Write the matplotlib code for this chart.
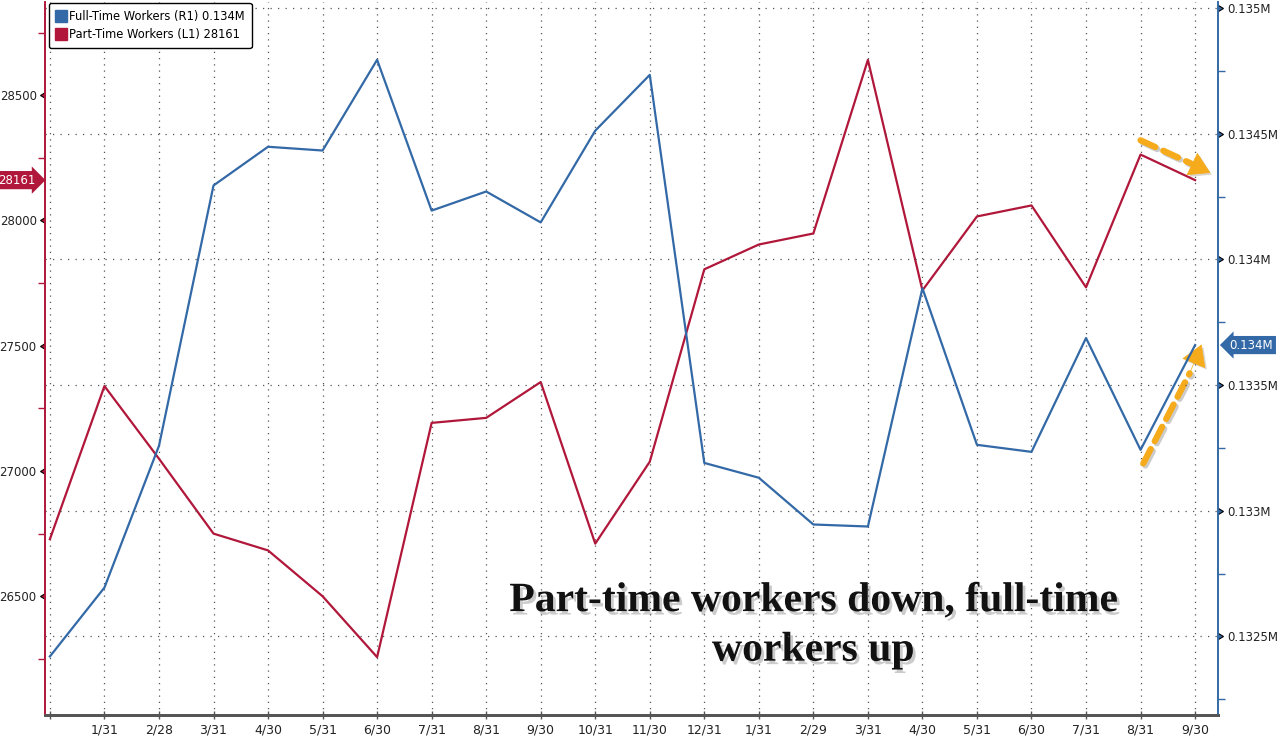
import matplotlib
matplotlib.use("Agg")
import matplotlib.pyplot as plt
import matplotlib.patheffects as pe
import matplotlib.transforms as mtransforms
from matplotlib.lines import Line2D
from matplotlib.ticker import MultipleLocator

# month-end labels, Dec 2022 -> Sep 2024 (first one unlabeled)
months = ["", "1/31", "2/28", "3/31", "4/30", "5/31", "6/30", "7/31", "8/31",
          "9/30", "10/31", "11/30", "12/31", "1/31", "2/29", "3/31", "4/30",
          "5/31", "6/30", "7/31", "8/31", "9/30"]

# full-time workers, thousands (right axis)
full_time = [132420, 132694, 133258, 134294, 134448, 134433, 134794, 134194,
             134270, 134147, 134512, 134734, 133190, 133131, 132945, 132937,
             133885, 133262, 133234, 133687, 133242, 133659]

# part-time workers, thousands (left axis)
part_time = [26728, 27339, 27049, 26750, 26683, 26500, 26257, 27192, 27212,
             27355, 26710, 27037, 27805, 27904, 27948, 28641, 27721, 28016,
             28060, 27733, 28263, 28161]

BLUE = "#3369a6"
RED = "#b0173a"
ORANGE = "#f5ab1c"

plt.rcParams["font.family"] = ["DejaVu Sans"]

fig = plt.figure(figsize=(12.8, 7.39), dpi=100)
ax = fig.add_axes([45 / 1280, 1 - 715 / 739, (1218 - 45) / 1280, 713 / 739])
ax2 = ax.twinx()

x = list(range(len(months)))

ax.plot(x, part_time, color=RED, lw=1.6, zorder=3)
ax2.plot(x, full_time, color=BLUE, lw=1.6, zorder=3)

ax.set_xlim(-0.09, 21.42)
ax.set_ylim(26026, 28872)
ax2.set_ylim(132187, 135024)

ax.set_xticks(x)
ax.set_xticklabels(months, fontsize=9, color="#222222")
ax.tick_params(axis="x", direction="inout", length=6, width=1, color="#555555", pad=3)

# left axis (red)
ax.yaxis.set_major_locator(MultipleLocator(500))
ax.yaxis.set_minor_locator(MultipleLocator(250))
ax.tick_params(axis="y", which="major", length=0, labelsize=8.5, labelcolor="#222222", pad=6)
ax.tick_params(axis="y", which="minor", length=5, width=1, color=RED)
for t in ax.yaxis.get_major_ticks():
    t.tick1line.set_marker(8)
    t.tick1line.set_markersize(5)
    t.tick1line.set_color(RED)

# right axis (blue)
ax2.yaxis.set_major_locator(MultipleLocator(500))
ax2.yaxis.set_minor_locator(MultipleLocator(250))
ax2.yaxis.set_major_formatter(lambda v, p: f"{v / 1e6:g}M")
ax2.tick_params(axis="y", which="major", length=0, labelsize=8.5, labelcolor="#222222", pad=7)
ax2.tick_params(axis="y", which="minor", length=5, width=1, color=BLUE)
for t in ax2.yaxis.get_major_ticks():
    t.tick2line.set_marker(9)
    t.tick2line.set_markersize(5)
    t.tick2line.set_color(BLUE)

# grid
ax.grid(axis="x", linestyle=(0, (1, 4)), color="#555555", lw=0.9)
ax2.grid(axis="y", linestyle=(0, (1, 5)), color="#555555", lw=0.9)

for a in (ax, ax2):
    a.spines["top"].set_visible(False)
    a.spines["bottom"].set_color("#555555")
    a.spines["bottom"].set_linewidth(2)
    a.spines["left"].set_color(RED)
    a.spines["right"].set_color(BLUE)
    a.spines["left"].set_linewidth(1.2)
    a.spines["right"].set_linewidth(1.2)

# last-value tags
trans_l = mtransforms.blended_transform_factory(ax.transAxes, ax.transData)
ax.text(-0.008, part_time[-1], f"{part_time[-1]}", transform=trans_l, ha="right",
        va="center", color="white", fontsize=8.5, clip_on=False,
        bbox=dict(boxstyle="rarrow,pad=0.22", fc=RED, ec="none"))
trans_r = mtransforms.blended_transform_factory(ax2.transAxes, ax2.transData)
ax2.text(1.01, full_time[-1], f"{full_time[-1] / 1e6:.3f}M", transform=trans_r, ha="left",
         va="center", color="white", fontsize=8.5, clip_on=False,
         bbox=dict(boxstyle="larrow,pad=0.22", fc=BLUE, ec="none"))

# legend
handles = [Line2D([], [], marker="s", ls="none", color=BLUE, markersize=9),
           Line2D([], [], marker="s", ls="none", color=RED, markersize=9)]
labels = [f"Full-Time Workers (R1) {full_time[-1] / 1e6:.3f}M",
          f"Part-Time Workers (L1) {part_time[-1]}"]
leg = ax2.legend(handles, labels, loc="upper left", bbox_to_anchor=(49 / 1280, 1 - 3 / 739),
                 bbox_transform=fig.transFigure, borderaxespad=0, fontsize=8.3,
                 handlelength=0.8, handletextpad=0.35, labelspacing=0.45,
                 borderpad=0.6, fancybox=True, framealpha=1, edgecolor="black")
leg.get_frame().set_linewidth(1.0)

# orange trend arrows: dashed shaft + solid head
shadow = [pe.SimpleLineShadow(offset=(1.5, -1.5), alpha=0.2), pe.Normal()]
trends = [((20.0, 28320), (20.92, 28228), (21.28, 28190)),
          ((20.05, 27030), (20.9, 27390), (21.12, 27505))]
for start, neck, tip in trends:
    ax.annotate("", xy=neck, xytext=start, zorder=5,
                arrowprops=dict(arrowstyle="-", color=ORANGE, lw=4.5,
                                linestyle=(0, (2.6, 1.4)), shrinkA=0, shrinkB=0,
                                path_effects=shadow))
    ax.annotate("", xy=tip, xytext=neck, zorder=5,
                arrowprops=dict(arrowstyle="-|>,head_width=0.85,head_length=1.4",
                                color=ORANGE, lw=0.5, shrinkA=0, shrinkB=0,
                                path_effects=[pe.withSimplePatchShadow(offset=(1.5, -1.5), alpha=0.2)]))

# headline
ax.text(0.655, 0.125, "Part-time workers down, full-time\nworkers up", transform=ax.transAxes,
        ha="center", va="center", fontsize=30, fontweight="bold", color="#111111",
        family="Liberation Serif", linespacing=1.4, zorder=6,
        path_effects=[pe.withSimplePatchShadow(offset=(2, -2.5), shadow_rgbFace="#555555", alpha=0.3)])

fig.savefig("out.png", dpi=100)
